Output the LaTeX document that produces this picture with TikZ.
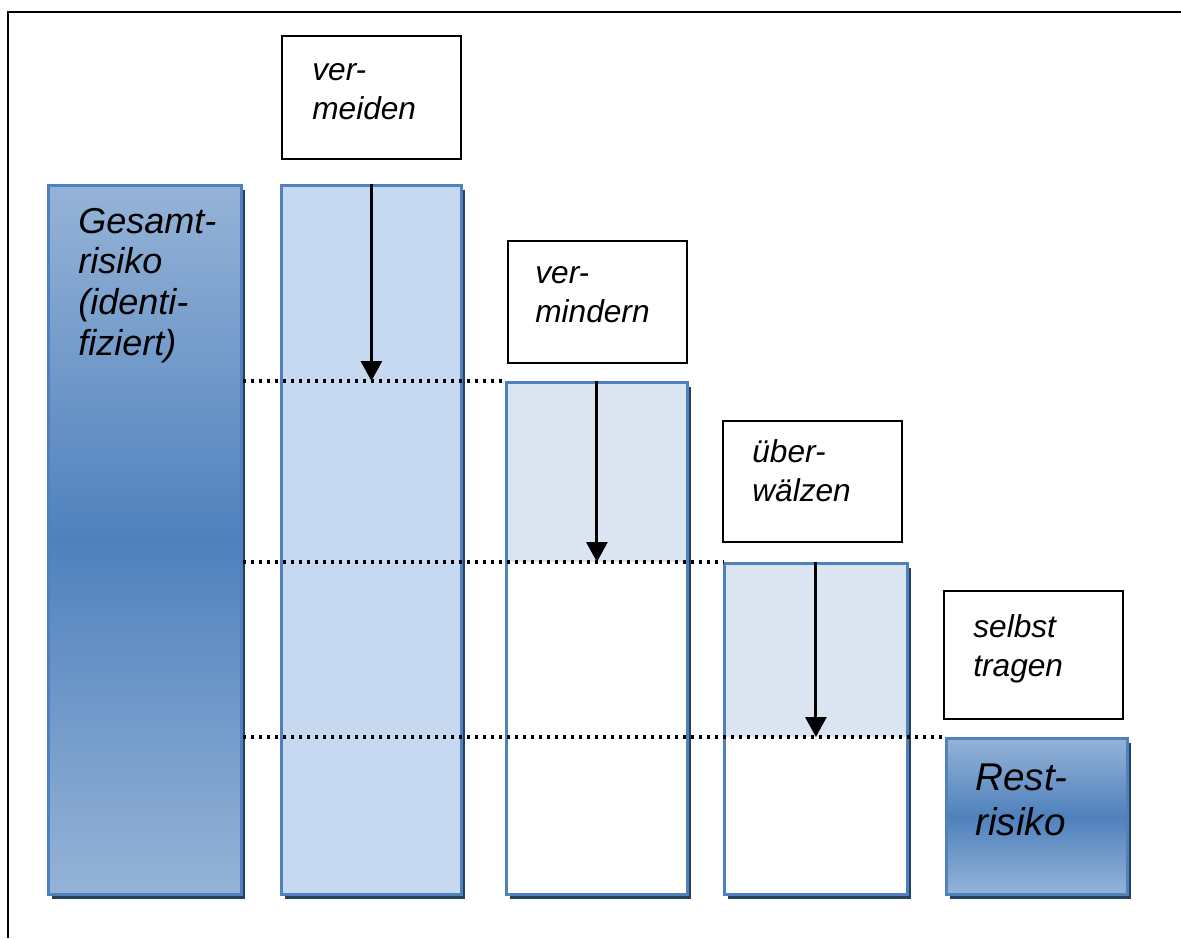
\documentclass[tikz,border=0pt]{standalone}
\usepackage{fontspec}
\setmainfont{Liberation Sans}
\usetikzlibrary{arrows.meta,shadows}
\definecolor{barline}{HTML}{4F81BD}
\definecolor{gradlight}{HTML}{95B3D7}
\definecolor{gradmid}{HTML}{4F81BD}
\definecolor{shadowblue}{HTML}{254061}
\definecolor{barfill}{HTML}{C6D9F1}
\definecolor{palefill}{HTML}{DBE5F1}

\begin{document}
\begin{tikzpicture}[
    bar/.style={draw=barline,line width=1.6pt,anchor=north west,inner sep=0pt,
      drop shadow={shadow xshift=0.08cm,shadow yshift=-0.1cm,fill=shadowblue,opacity=1}},
    gradbar/.style={bar,top color=gradlight,bottom color=gradlight,middle color=gradmid},
    actbox/.style={draw=black,line width=1.1pt,anchor=north west,inner sep=0pt,
      minimum width=3.58cm},
    lbl/.style={anchor=base west,inner sep=0pt,text width=3.4cm,align=left,
      font=\fontsize{18}{22.5}\selectfont\itshape},
    riskalbl/.style={lbl,font=\fontsize{20.5}{23.2}\selectfont\itshape},
    biglbl/.style={lbl,font=\fontsize{22}{26}\selectfont\itshape},
    levelline/.style={line width=0.065cm,dash pattern=on 0.065cm off 0.095cm},
    arr/.style={-{Triangle[width=0.42cm,length=0.4cm]},line width=0.06cm}]
    \useasboundingbox (0,0) rectangle (23.62,-18.76);
    \draw[line width=0.05cm] (0.16,-18.76) -- (0.16,-0.24) -- (23.62,-0.24);

    \node[gradbar,minimum width=3.62cm,minimum height=3.12cm] (bar5) at (18.90,-14.74) {};
    \node[bar,fill=white,minimum width=3.66cm,minimum height=6.62cm,
      path picture={\fill[palefill] (path picture bounding box.north west)
        rectangle (path picture bounding box.east |- bar5.north);}] (bar4) at (14.46,-11.24) {};
    \node[bar,fill=white,minimum width=3.62cm,minimum height=10.24cm,
      path picture={\fill[palefill] (path picture bounding box.north west)
        rectangle (path picture bounding box.east |- bar4.north);}] (bar3) at (10.10,-7.62) {};
    \node[bar,fill=barfill,minimum width=3.60cm,minimum height=14.18cm] (bar2) at (5.60,-3.68) {};
    \node[gradbar,minimum width=3.86cm,minimum height=14.18cm] (bar1) at (0.94,-3.68) {};

    \node[actbox,minimum height=2.46cm] (box1) at (5.62,-0.70) {};
    \node[actbox,minimum height=2.44cm] (box2) at (10.14,-4.80) {};
    \node[actbox,minimum height=2.42cm] (box3) at (14.44,-8.40) {};
    \node[actbox,minimum height=2.56cm] (box4) at (18.86,-11.80) {};

    \node[riskalbl] (txt1) at (1.56,-4.66) {Gesamt-\\risiko\\(identi-\\fiziert)};
    \node[lbl] (txt2) at (6.24,-1.60) {ver-\\meiden};
    \node[lbl] (txt3) at (10.70,-5.66) {ver-\\mindern};
    \node[lbl] (txt4) at (15.04,-9.24) {über-\\wälzen};
    \node[lbl] (txt5) at (19.46,-12.74) {selbst\\tragen};
    \node[biglbl] (txt6) at (19.50,-15.80) {Rest-\\risiko};

    \draw[levelline] (bar1.east |- bar3.north west) -- (bar3.north west);
    \draw[levelline] (bar1.east |- bar4.north west) -- (bar4.north west);
    \draw[levelline] (bar1.east |- bar5.north west) -- (bar5.north west);

    \draw[arr] (bar2.north) -- (bar2.north |- bar3.north);
    \draw[arr] (bar3.north) -- (bar3.north |- bar4.north);
    \draw[arr] (bar4.north) -- (bar4.north |- bar5.north);
\end{tikzpicture}
\end{document}
